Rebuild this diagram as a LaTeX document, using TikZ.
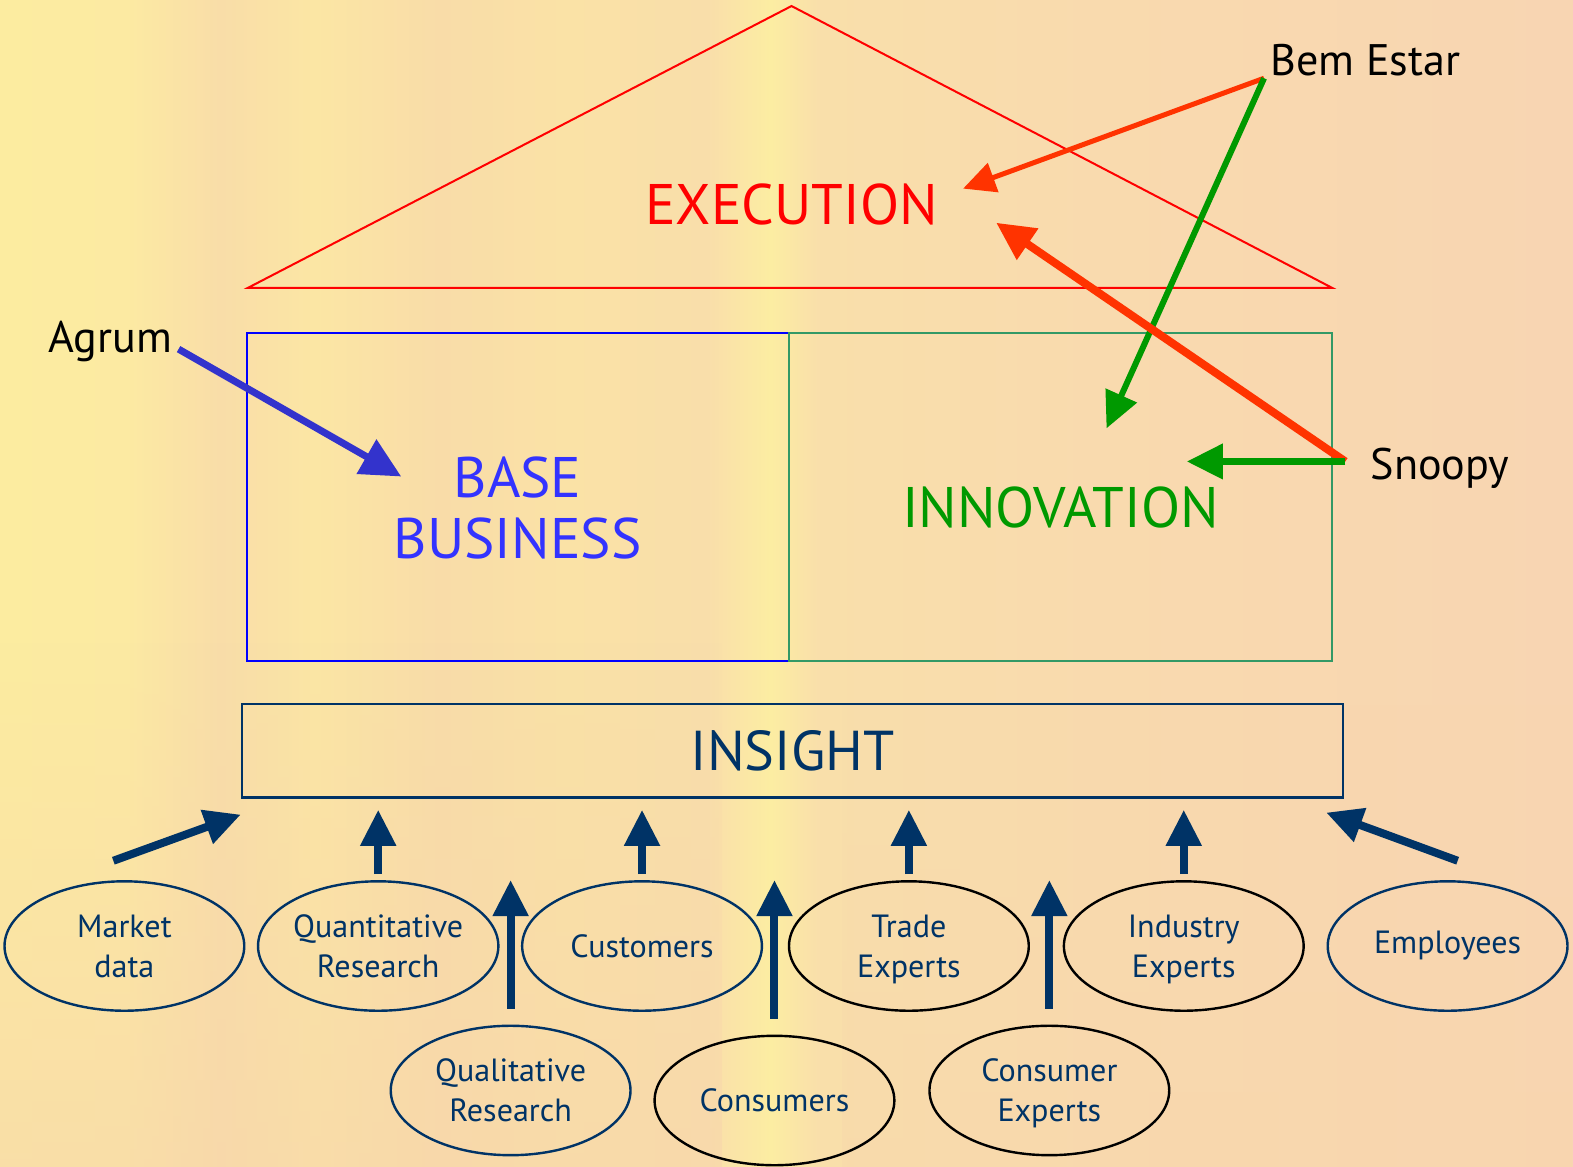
\documentclass[tikz,border=0pt]{standalone}
\usepackage{fontspec}
\setmainfont{PT Sans}
\usetikzlibrary{arrows.meta,shapes.geometric,calc,fadings}

\definecolor{navy}{HTML}{003366}
\definecolor{roofred}{HTML}{FF0000}
\definecolor{basecol}{HTML}{0000FF}
\definecolor{basetxt}{HTML}{3333FF}
\definecolor{innocol}{HTML}{339966}
\definecolor{innotxt}{HTML}{009900}
\definecolor{agrumcol}{HTML}{3333CC}
\definecolor{execarrow}{HTML}{FF3300}
\definecolor{bgpeach}{HTML}{F8D6AC}
\definecolor{bgA}{HTML}{FCECA0}
\definecolor{bgB}{HTML}{FCEAA2}
\definecolor{bgC}{HTML}{F9DDA8}
\definecolor{bgD}{HTML}{FBE6A4}
\definecolor{bgE}{HTML}{F9DCA8}
\definecolor{bgF}{HTML}{FAE2A6}
\definecolor{bgG}{HTML}{F9DEAA}
\definecolor{bgH}{HTML}{FCEDA2}
\definecolor{bgI}{HTML}{F9DFAA}
\definecolor{bgJ}{HTML}{F9DAAE}
\definecolor{bgK}{HTML}{F8D5B2}

\pgfdeclarehorizontalshading{bgshade}{100bp}{%
  color(0bp)=(bgA);
  color(25bp)=(bgA);
  color(29bp)=(bgB);
  color(32bp)=(bgC);
  color(35bp)=(bgD);
  color(39bp)=(bgE);
  color(43bp)=(bgF);
  color(47.5bp)=(bgG);
  color(49.5bp)=(bgH);
  color(51bp)=(bgI);
  color(60bp)=(bgJ);
  color(75bp)=(bgK);
  color(100bp)=(bgK)}

\tikzset{
  src/.style={ellipse, draw=navy, line width=2.4pt, minimum width=239pt,
    minimum height=129pt, inner sep=0pt, text=navy, align=center,
    font=\fontsize{32}{40}\selectfont},
  srcdark/.style={src, draw=black},
  feed/.style={navy, line width=8pt,
    -{Triangle[length=36pt,width=34pt]}},
  label/.style={font=\fontsize{44}{50}\selectfont, text=black, inner sep=0pt},
  big/.style={font=\fontsize{57}{64}\selectfont, inner sep=0pt, align=center},
}

\begin{document}
\begin{tikzpicture}[x=1pt,y=-1pt]
  % backdrop
  \useasboundingbox (0,0) rectangle (1568,1163);
  \shade[shading=bgshade] (0,0) rectangle (1568,1163);
  \fill[bgpeach, path fading=north, opacity=0.6] (0,640) rectangle (720,1163);
  \fill[bgpeach, path fading=north, opacity=0.4] (840,700) rectangle (1568,1163);

  % roof
  \draw[roofred, line width=2pt, line join=miter]
    (789,6) -- (1328,287) -- (247,287) -- cycle;
  \node[big, text=roofred] (exec) at (789,204) {EXECUTION};

  % pillars
  \draw[basecol, line width=2pt] (246,332) rectangle (786,659);
  \draw[innocol, line width=2pt] (786,332) rectangle (1328,659);
  \node[big, text=basetxt] (base) at (516,506) {BASE\\[-3pt]BUSINESS};
  \node[big, text=innotxt] (inno) at (1057,506) {INNOVATION};

  % foundation
  \node[draw=navy, line width=2.4pt, minimum width=1098pt, minimum height=93pt,
    inner sep=0pt, text=navy, font=\fontsize{56}{64}\selectfont]
    (ins) at (790,748.5) {INSIGHT};

  % sources, upper row
  \node[src] (md) at (124,943) {Market\\data};
  \node[src] (qn) at (377,943) {Quantitative\\Research};
  \node[src] (cu) at (640,943) {Customers};
  \node[srcdark] (te) at (906,943) {Trade\\\smash{Experts}};
  \node[srcdark] (ie) at (1180,943) {Industry\\\smash{Experts}};
  \node[src] (em) at (1443,943) {Employees};
  % sources, lower row
  \node[src] (ql) at (509,1087) {Qualitative\\Research};
  \node[srcdark] (co) at (772,1097) {Consumers};
  \node[srcdark] (ce) at (1046,1087) {Consumer\\\smash{Experts}};

  % feeds into insight
  \coordinate (mdfrom) at (113,858);
  \coordinate (mdto) at (240,812);
  \coordinate (emfrom) at (1453,858);
  \coordinate (emto) at (1322,810);
  \draw[feed] (mdfrom) -- (mdto);
  \draw[feed] (emfrom) -- (emto);
  \foreach \n in {qn,cu,te,ie}
    \draw[feed, shorten <=6pt, shorten >=11pt] (\n.north) -- (\n.north |- ins.south);
  \foreach \n in {ql,co,ce}
    \draw[feed, shorten <=16pt, shorten >=81pt] (\n.north) -- (\n.north |- ins.south);

  % brands
  \node[label, anchor=base west] (agrum) at (48,351) {Agrum};
  \node[label, anchor=base west] (bem) at (1266,75) {Bem Estar};
  \node[label, anchor=base west] (snoopy) at (1366,478) {Snoopy};

  \coordinate (agfrom) at (178,348);
  \coordinate (agto) at (400,475);
  \draw[agrumcol, line width=7pt, -{Triangle[length=40pt,width=38pt]}] (agfrom) -- (agto);

  \coordinate (bemfrom) at (1260,78);
  \coordinate (bemexec) at (960,188);
  \coordinate (beminno) at (1103,427);
  \draw[execarrow, line width=5pt, -{Triangle[length=32pt,width=30pt]}] (bemfrom) -- (bemexec);
  \draw[innotxt, line width=6pt, -{Triangle[length=36pt,width=33pt]}] (bemfrom) -- (beminno);

  \coordinate (snfrom) at (1341,460);
  \coordinate (snexec) at (993,222);
  \coordinate (sninno) at (1183,460);
  \draw[execarrow, line width=8pt, -{Triangle[length=38pt,width=36pt]}] (snfrom) -- (snexec);
  \draw[innotxt, line width=7pt, -{Triangle[length=36pt,width=34pt]}] (snfrom) -- (sninno);
\end{tikzpicture}
\end{document}
